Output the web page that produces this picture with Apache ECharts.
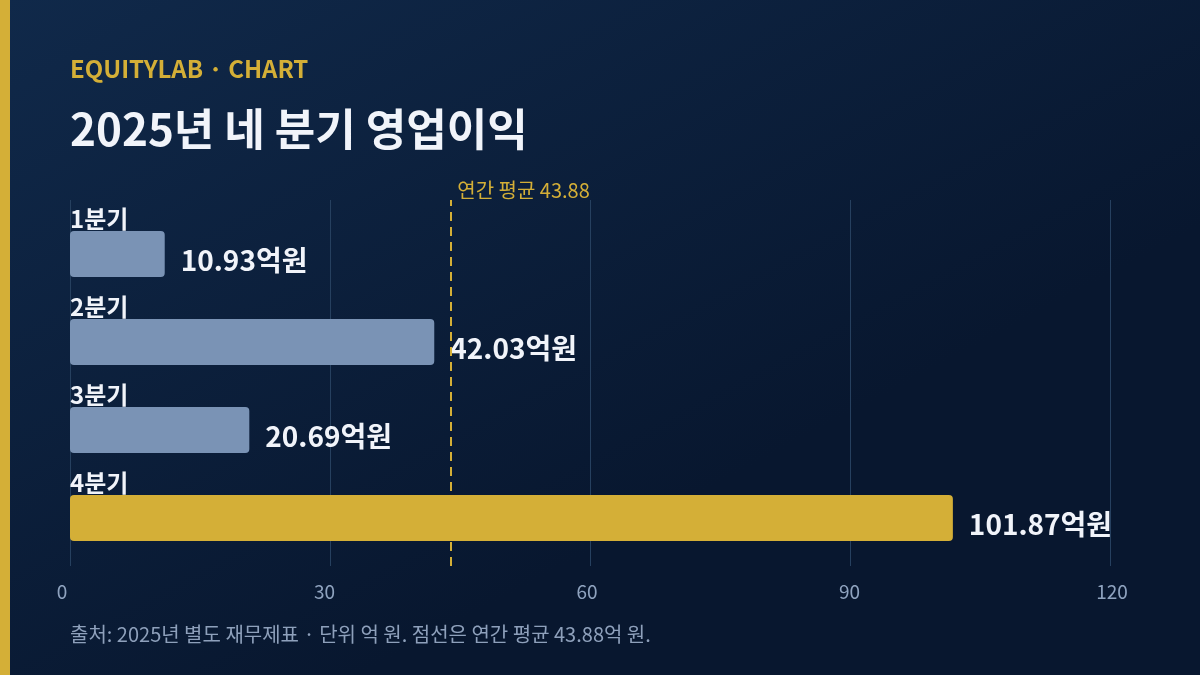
<!doctype html>
<html>
<head>
<meta charset="utf-8">
<title>2025년 네 분기 영업이익</title>
<script src="https://cdn.jsdelivr.net/npm/echarts@6/dist/echarts.min.js"></script>
<style>
  html, body { margin: 0; padding: 0; width: 100%; height: 100%; }
  #chart { width: 1200px; height: 675px; }
</style>
</head>
<body>
<div id="chart"></div>
<script>
  // data
  var quarters = ['1분기', '2분기', '3분기', '4분기'];
  var profits = [10.93, 42.03, 20.69, 101.87];
  var highlightIndex = 3;
  var xTicks = { min: 0, max: 120, interval: 30 };

  var FONT = '"Noto Sans CJK KR", "Noto Sans", sans-serif';
  var GOLD = '#d4af37';

  var sum = 0;
  for (var i = 0; i < profits.length; i++) sum += profits[i];
  var avg = Math.round(sum / profits.length * 100) / 100;

  var barData = profits.map(function (v, i) {
    return {
      value: v,
      itemStyle: { color: i === highlightIndex ? GOLD : '#7a93b5' }
    };
  });

  var myChart = echarts.init(document.getElementById('chart'));

  myChart.setOption({
    backgroundColor: new echarts.graphic.LinearGradient(0, 0, 0.3, 1, [
      { offset: 0, color: '#10294a' },
      { offset: 1, color: '#08172f' }
    ]),
    animation: false,
    textStyle: { fontFamily: FONT },
    graphic: [
      { type: 'rect', left: 0, top: 0, shape: { width: 10, height: 675 }, style: { fill: GOLD } },
      {
        type: 'text', left: 70, top: 57,
        style: { text: 'EQUITYLAB · CHART', fill: GOLD, font: 'bold 24px ' + FONT }
      },
      {
        type: 'text', left: 70, top: 107,
        style: { text: '2025년 네 분기 영업이익', fill: '#f1f4fa', font: 'bold 44px ' + FONT }
      },
      {
        type: 'text', left: 70, top: 624,
        style: {
          text: '출처: 2025년 별도 재무제표 · 단위 억 원. 점선은 연간 평균 ' + avg + '억 원.',
          fill: '#8ea0bb', font: '20px ' + FONT
        }
      }
    ],
    grid: [
      { left: 70, right: 90, top: 210, bottom: 113 },
      { left: 70, right: 90, top: 200, bottom: 109 },
      { left: 62, right: 88, top: 200, bottom: 109 }
    ],
    xAxis: [
      {
        gridIndex: 0, type: 'value', min: xTicks.min, max: xTicks.max, interval: xTicks.interval,
        axisLine: { show: false }, axisTick: { show: false }, axisLabel: { show: false },
        splitLine: { show: false }
      },
      {
        gridIndex: 1, type: 'value', min: xTicks.min, max: xTicks.max, interval: xTicks.interval,
        axisLine: { show: false }, axisTick: { show: false }, axisLabel: { show: false },
        splitLine: { show: true, lineStyle: { color: '#26405f', width: 1 } }
      },
      {
        gridIndex: 2, type: 'value', min: xTicks.min, max: xTicks.max, interval: xTicks.interval,
        axisLine: { show: false }, axisTick: { show: false }, splitLine: { show: false },
        axisLabel: { color: '#8fa3bf', fontSize: 19, margin: 16, fontFamily: FONT }
      }
    ],
    yAxis: [
      {
        gridIndex: 0, type: 'category', data: quarters, inverse: true,
        axisLine: { show: false }, axisTick: { show: false },
        axisLabel: {
          inside: true, margin: 0, align: 'left', verticalAlign: 'bottom',
          padding: [0, 0, 23, 0],
          color: '#f1f4fa', fontSize: 24, fontWeight: 'bold', fontFamily: FONT
        }
      },
      { gridIndex: 1, type: 'value', min: 0, max: 1, show: false },
      { gridIndex: 2, type: 'value', min: 0, max: 1, show: false }
    ],
    series: [
      {
        type: 'bar',
        xAxisIndex: 0, yAxisIndex: 0,
        data: barData,
        barWidth: 46,
        itemStyle: { borderRadius: 4 },
        label: {
          show: true, position: 'right', distance: 16,
          offset: [0, 6],
          formatter: function (p) { return p.value.toFixed(2) + '억원'; },
          color: '#f1f4fa', fontSize: 28, fontWeight: 'bold', fontFamily: FONT
        }
      },
      {
        type: 'line',
        xAxisIndex: 1, yAxisIndex: 1,
        data: [],
        markLine: {
          symbol: 'none', silent: true,
          lineStyle: { color: GOLD, type: [9, 6], width: 2 },
          label: {
            position: 'end', formatter: '연간 평균 ' + avg,
            color: GOLD, fontSize: 20, fontFamily: FONT,
            align: 'left', offset: [7, 5]
          },
          data: [{ xAxis: avg }]
        }
      }
    ]
  });
</script>
</body>
</html>
